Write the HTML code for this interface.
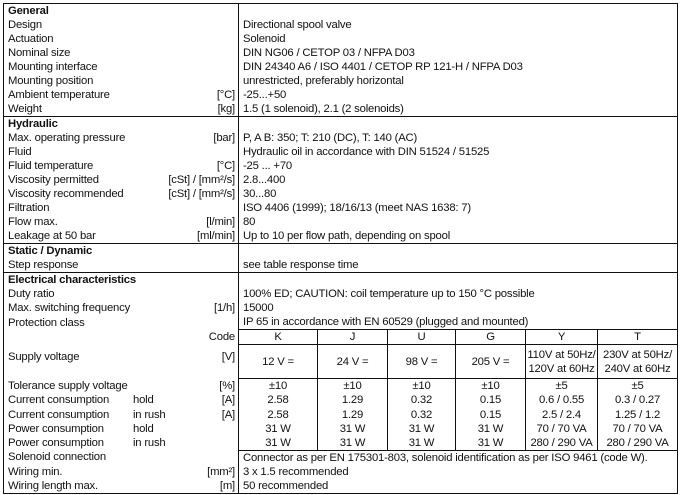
<!DOCTYPE html>
<html><head><meta charset="utf-8">
<style>
html,body{margin:0;padding:0;background:#fff;width:681px;height:495px;overflow:hidden}
table{position:absolute;left:3px;top:3px;border-collapse:collapse;table-layout:fixed;width:675px;border:1px solid #111;font-family:"Liberation Sans",Arial,sans-serif;font-size:11.3px;letter-spacing:-0.2px;color:#111}
td{padding:0;height:14.03px;line-height:12px;white-space:nowrap;overflow:hidden;position:relative}
td.l{border-right:1px solid #111;padding-left:4px;padding-right:3px}
td.l span{float:right}
td.l i{font-style:normal;position:absolute;left:129px;top:1px}
td.v{padding-left:4px}
tr.h td{border-top:1px solid #111;font-weight:bold}
tr.h td.v{font-weight:normal}
td.c{text-align:center;border-right:1px solid #111}
td.c:last-child{border-right:none}
.bb td.c, .bb td.v{border-bottom:1px solid #111}
tr.tall td{height:28.1px}
</style></head><body>
<table>
<colgroup><col style="width:235px"><col style="width:79px"><col style="width:70px"><col style="width:68px"><col style="width:70px"><col style="width:72px"><col style="width:80px"></colgroup>
<tr class="h"><td class="l">General</td><td class="v" colspan="6"></td></tr>
<tr><td class="l">Design</td><td class="v" colspan="6">Directional spool valve</td></tr>
<tr><td class="l">Actuation</td><td class="v" colspan="6">Solenoid</td></tr>
<tr><td class="l">Nominal size</td><td class="v" colspan="6">DIN NG06 / CETOP 03 / NFPA D03</td></tr>
<tr><td class="l">Mounting interface</td><td class="v" colspan="6">DIN 24340 A6 / ISO 4401 / CETOP RP 121-H / NFPA D03</td></tr>
<tr><td class="l">Mounting position</td><td class="v" colspan="6">unrestricted, preferably horizontal</td></tr>
<tr><td class="l">Ambient temperature<span>[°C]</span></td><td class="v" colspan="6">-25...+50</td></tr>
<tr><td class="l">Weight<span>[kg]</span></td><td class="v" colspan="6">1.5 (1 solenoid), 2.1 (2 solenoids)</td></tr>
<tr class="h"><td class="l">Hydraulic</td><td class="v" colspan="6"></td></tr>
<tr><td class="l">Max. operating pressure<span>[bar]</span></td><td class="v" colspan="6">P, A B: 350; T: 210 (DC), T: 140 (AC)</td></tr>
<tr><td class="l">Fluid</td><td class="v" colspan="6">Hydraulic oil in accordance with DIN 51524 / 51525</td></tr>
<tr><td class="l">Fluid temperature<span>[°C]</span></td><td class="v" colspan="6">-25 ... +70</td></tr>
<tr><td class="l">Viscosity permitted<span>[cSt] / [mm²/s]</span></td><td class="v" colspan="6">2.8...400</td></tr>
<tr><td class="l">Viscosity recommended<span>[cSt] / [mm²/s]</span></td><td class="v" colspan="6">30...80</td></tr>
<tr><td class="l">Filtration</td><td class="v" colspan="6">ISO 4406 (1999); 18/16/13 (meet NAS 1638: 7)</td></tr>
<tr><td class="l">Flow max.<span>[l/min]</span></td><td class="v" colspan="6">80</td></tr>
<tr><td class="l">Leakage at 50 bar<span>[ml/min]</span></td><td class="v" colspan="6">Up to 10 per flow path, depending on spool</td></tr>
<tr class="h"><td class="l">Static / Dynamic</td><td class="v" colspan="6"></td></tr>
<tr><td class="l">Step response</td><td class="v" colspan="6">see table response time</td></tr>
<tr class="h"><td class="l">Electrical characteristics</td><td class="v" colspan="6"></td></tr>
<tr><td class="l">Duty ratio</td><td class="v" colspan="6">100% ED; CAUTION: coil temperature up to 150 °C possible</td></tr>
<tr><td class="l">Max. switching frequency<span>[1/h]</span></td><td class="v" colspan="6">15000</td></tr>
<tr class="bb"><td class="l">Protection class</td><td class="v" colspan="6">IP 65 in accordance with EN 60529 (plugged and mounted)</td></tr>
<tr class="bb"><td class="l"><span>Code</span></td><td class="c">K</td><td class="c">J</td><td class="c">U</td><td class="c">G</td><td class="c">Y</td><td class="c">T</td></tr>
<tr class="bb tall"><td class="l" style="vertical-align:top;padding-top:6px">Supply voltage<span>[V]</span></td><td class="c">12 V =</td><td class="c">24 V =</td><td class="c">98 V =</td><td class="c">205 V =</td><td class="c" style="line-height:14px">110V at 50Hz/<br>120V at 60Hz</td><td class="c" style="line-height:14px">230V at 50Hz/<br>240V at 60Hz</td></tr>
<tr><td class="l">Tolerance supply voltage<span>[%]</span></td><td class="c">±10</td><td class="c">±10</td><td class="c">±10</td><td class="c">±10</td><td class="c">±5</td><td class="c">±5</td></tr>
<tr><td class="l">Current consumption<i>hold</i><span>[A]</span></td><td class="c">2.58</td><td class="c">1.29</td><td class="c">0.32</td><td class="c">0.15</td><td class="c">0.6 / 0.55</td><td class="c">0.3 / 0.27</td></tr>
<tr><td class="l">Current consumption<i>in rush</i><span>[A]</span></td><td class="c">2.58</td><td class="c">1.29</td><td class="c">0.32</td><td class="c">0.15</td><td class="c">2.5 / 2.4</td><td class="c">1.25 / 1.2</td></tr>
<tr><td class="l">Power consumption<i>hold</i></td><td class="c">31 W</td><td class="c">31 W</td><td class="c">31 W</td><td class="c">31 W</td><td class="c">70 / 70 VA</td><td class="c">70 / 70 VA</td></tr>
<tr class="bb"><td class="l">Power consumption<i>in rush</i></td><td class="c">31 W</td><td class="c">31 W</td><td class="c">31 W</td><td class="c">31 W</td><td class="c">280 / 290 VA</td><td class="c">280 / 290 VA</td></tr>
<tr><td class="l">Solenoid connection</td><td class="v" colspan="6">Connector as per EN 175301-803, solenoid identification as per ISO 9461 (code W).</td></tr>
<tr><td class="l">Wiring min.<span>[mm²]</span></td><td class="v" colspan="6">3 x 1.5 recommended</td></tr>
<tr><td class="l">Wiring length max.<span>[m]</span></td><td class="v" colspan="6">50 recommended</td></tr>
</table>
</body></html>
